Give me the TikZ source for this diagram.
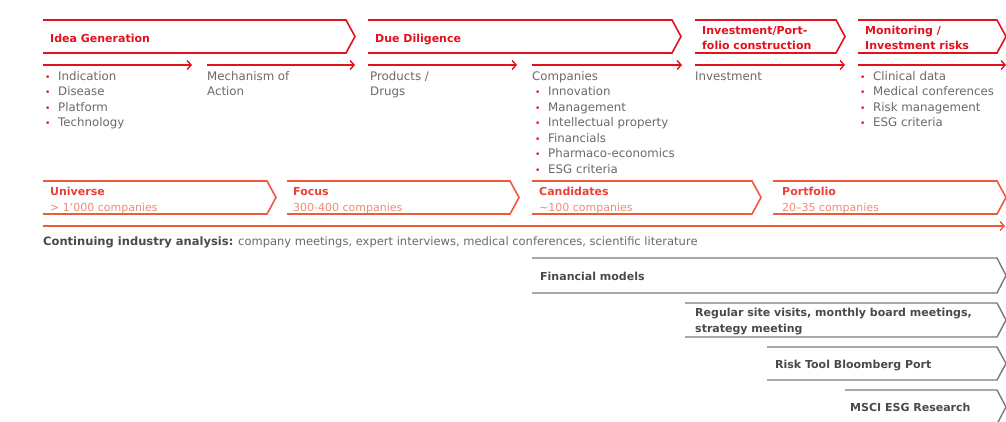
\documentclass[tikz,border=0pt]{standalone}
\usepackage{fontspec}
\setmainfont{DejaVu Sans}
\usetikzlibrary{arrows.meta}
\definecolor{topred}{HTML}{E3101E}
\definecolor{midred}{HTML}{EE5A3C}
\definecolor{midtitle}{HTML}{E8403A}
\definecolor{midsub}{HTML}{F08C72}
\definecolor{txtgray}{HTML}{6A6A6A}
\definecolor{darkgray}{HTML}{4A4A4A}
\definecolor{linegray}{HTML}{7A7A7A}
\newcommand{\mychev}[5]{\draw[#1] (#2,#4) -- (#3,#4) -- ({#3+9},{(#4+#5)/2}) -- (#3,#5) -- (#2,#5);}
\newcommand{\bul}{\makebox[13pt][l]{\textcolor{topred}{\small\textbullet}}}
\tikzset{
  topchev/.style={draw=topred, line width=1.6pt, line join=miter},
  midchev/.style={draw=midred, line width=1.6pt, line join=miter},
  graychev/.style={draw=linegray, line width=1.4pt, line join=miter},
  flowarrow/.style={draw=topred, line width=1.6pt, -{Straight Barb[length=4pt,width=9pt,line width=1.4pt]}},
  longarrow/.style={draw=midred, line width=1.6pt, -{Straight Barb[length=4pt,width=9pt,line width=1.4pt]}},
  toptitle/.style={anchor=base west, inner sep=0pt, font=\fontsize{11}{15}\selectfont\bfseries, text=topred, align=left},
  listtext/.style={anchor=base west, inner sep=0pt, font=\fontsize{11.8}{15.5}\selectfont, text=txtgray, align=left},
  midtitle/.style={anchor=base west, inner sep=0pt, font=\fontsize{11}{15}\selectfont\bfseries, text=midtitle},
  midsub/.style={anchor=base west, inner sep=0pt, font=\fontsize{11}{15}\selectfont, text=midsub},
  graytext/.style={anchor=base west, inner sep=0pt, font=\fontsize{11}{16}\selectfont\bfseries, text=darkgray, align=left},
}
\begin{document}
\begin{tikzpicture}[x=1pt,y=-1pt]
\useasboundingbox[fill=white] (0,0) rectangle (1006,421);
% top row chevrons
\mychev{topchev}{43}{346}{20}{53}
\mychev{topchev}{368}{672}{20}{53}
\mychev{topchev}{695}{836}{20}{53}
\mychev{topchev}{858}{997}{20}{53}
\node[toptitle] (t1) at (50,42) {Idea Generation};
\node[toptitle] (t2) at (375,42) {Due Diligence};
\node[toptitle] (t3) at (702,49) {Investment/Port-\\folio construction};
\node[toptitle] (t4) at (865,49) {Monitoring /\\Investment risks};
% flow arrows
\coordinate (a1s) at (43,65); \coordinate (a1e) at (192,65);
\coordinate (a2s) at (207,65); \coordinate (a2e) at (355,65);
\coordinate (a3s) at (368,65); \coordinate (a3e) at (517,65);
\coordinate (a4s) at (532,65); \coordinate (a4e) at (682,65);
\coordinate (a5s) at (695,65); \coordinate (a5e) at (845,65);
\coordinate (a6s) at (858,65); \coordinate (a6e) at (1006,65);
\foreach \i in {1,...,6} {\draw[flowarrow] (a\i s) -- (a\i e);}
% lists (anchor = baseline of last line)
\node[listtext] (l1) at (45,126.5) {\bul Indication\\\bul Disease\\\bul Platform\\\bul Technology};
\node[listtext] (l2) at (207,95.5) {Mechanism of\\Action};
\node[listtext] (l3) at (370,95.5) {Products /\\Drugs};
\node[listtext] (l4) at (532,173) {Companies\\\hspace{3pt}\bul Innovation\\\hspace{3pt}\bul Management\\\hspace{3pt}\bul Intellectual property\\\hspace{3pt}\bul Financials\\\hspace{3pt}\bul Pharmaco-economics\\\hspace{3pt}\bul ESG criteria};
\node[listtext] (l5) at (695,80) {Investment};
\node[listtext] (l6) at (860,126.5) {\bul Clinical data\\\bul Medical conferences\\\bul Risk management\\\bul ESG criteria};
% middle row
\mychev{midchev}{43}{267}{181}{214}
\mychev{midchev}{287}{510}{181}{214}
\mychev{midchev}{532}{752}{181}{214}
\mychev{midchev}{773}{997}{181}{214}
\node[midtitle] (m1) at (50,195) {Universe};
\node[midsub] (s1) at (50,211) {> 1'000 companies};
\node[midtitle] (m2) at (293,195) {Focus};
\node[midsub] (s2) at (293,211) {300-400 companies};
\node[midtitle] (m3) at (539,195) {Candidates};
\node[midsub] (s3) at (539,211) {\textasciitilde100 companies};
\node[midtitle] (m4) at (782,195) {Portfolio};
\node[midsub] (s4) at (782,211) {20–35 companies};
\coordinate (ls) at (43,226); \coordinate (le) at (1005,226);
\draw[longarrow] (ls) -- (le);
\node[anchor=base west, inner sep=0pt, font=\fontsize{11.5}{15}\selectfont, text=txtgray] (cia) at (43,245) {\textcolor{darkgray}{\bfseries Continuing industry analysis:} company meetings, expert interviews, medical conferences, scientific literature};
% bottom gray chevrons
\mychev{graychev}{532}{997}{258}{293}
\mychev{graychev}{685}{997}{303}{337}
\mychev{graychev}{767}{997}{347}{380}
\mychev{graychev}{845}{997}{390}{424}
\node[graytext] (g1) at (540,280) {Financial models};
\node[graytext] (g2) at (695,332) {Regular site visits, monthly board meetings,\\strategy meeting};
\node[graytext] (g3) at (775,368) {Risk Tool Bloomberg Port};
\node[graytext] (g4) at (850,411) {MSCI ESG Research};
\end{tikzpicture}
\end{document}
